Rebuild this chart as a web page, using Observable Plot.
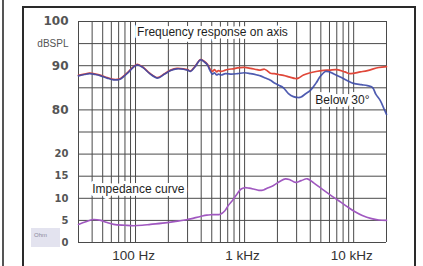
<!DOCTYPE html>
<html>
<head>
<meta charset="utf-8">
<script src="https://cdn.jsdelivr.net/npm/d3@7"></script>
<script src="https://cdn.jsdelivr.net/npm/@observablehq/plot@0.6"></script>
<style>
  html, body { margin: 0; padding: 0; background: #fff; }
  #wrap { position: relative; width: 423px; height: 266px; overflow: hidden; background: #fff; }
  #outerLine { position: absolute; left: 2px; top: 0; width: 2px; height: 266px; background: #555; }
  #innerFrame { position: absolute; left: 22px; top: 6px; width: 390px; height: 280px; border: 2px solid #2a2a2a; }
  #ohm { position: absolute; left: 31px; top: 228px; width: 29px; height: 19px; background: #e3e3ef;
         font: 6px "Liberation Sans", Arial, sans-serif; color: #8a8a9a; line-height: 15px; text-indent: 3px; }
  #chart { position: absolute; left: 0; top: 0; }
</style>
</head>
<body>
<div id="wrap">
  <div id="outerLine"></div>
  <div id="innerFrame"></div>
  <div id="ohm">Ohm</div>
  <div id="chart"></div>
</div>
<script>
// ---- data (frequency in Hz) ----
const onAxisFreq = [30,34,38,43,48,55,63,68,73,85,95,104,118,135,159,185,210,240,275,300,319,350,394,425,456,480,507,530,555,575,610,667,720,790,859,997,1133,1300,1396,1520,1620,1725,1876,2050,2271,2600,2925,3113,3465,4000,5066,6000,7000,8300,9300,11500,13400,17000,20000];
const onAxisDb   = [87.8,88.1,88.3,88.1,87.8,87.3,86.9,86.9,87.1,88.5,89.7,90.3,89.6,88.3,87.3,88.2,89.0,89.4,89.3,89.1,88.8,89.8,91.4,91.0,90.3,89.3,88.7,89.1,88.6,88.9,88.7,89.0,89.2,89.3,89.5,89.6,89.4,89.1,89.0,89.2,88.8,88.3,88.2,88.0,87.8,87.4,87.1,87.2,87.9,88.4,88.9,89.0,89.1,88.6,88.2,88.6,88.9,89.6,89.8];

const below30Freq = [30,34,38,43,48,55,63,68,73,85,95,104,118,135,159,185,210,240,275,300,319,350,394,425,456,480,507,530,555,575,610,667,760,859,997,1133,1300,1396,1550,1725,1876,2050,2271,2524,2800,3100,3300,3600,4010,4500,4950,5490,6000,6520,8030,9950,11750,13340,14850,16000,17550,19000,20000];
const below30Db   = [87.7,88.0,88.2,88.0,87.7,87.2,86.8,86.8,87.0,88.4,89.6,90.2,89.5,88.2,87.2,88.1,88.9,89.3,89.2,89.0,88.7,89.7,91.3,90.9,90.2,89.0,88.1,88.4,87.9,88.1,87.9,88.2,88.1,88.2,88.4,88.2,87.9,87.7,87.2,86.7,86.1,85.6,85.0,83.7,83.0,82.8,82.9,83.6,84.4,86.0,87.6,88.7,88.6,88.2,87.1,86.0,85.7,85.5,85.1,83.5,82.1,80.2,79.0];

const impFreq = [30,35,41,48,55,63,80,96,115,137,195,250,300,394,450,507,600,660,710,790,859,930,1000,1100,1206,1350,1490,1650,1840,2100,2370,2600,2925,3300,3760,4300,5070,6000,7240,8500,10200,12000,14600,17000,20000];
const impOhm  = [4.1,4.7,5.2,5.0,4.5,4.1,3.9,3.8,3.9,4.1,4.5,4.9,5.2,5.9,6.2,6.3,6.4,7.2,8.4,9.8,11.1,12.1,12.4,12.3,12.1,11.8,11.9,12.4,12.9,13.8,14.4,14.2,13.6,14.0,14.4,13.5,12.2,10.9,9.5,8.3,7.0,6.1,5.4,5.1,5.0];

// ---- axis / grid values ----
const gridFreqs = [30,40,50,60,70,80,90,100,200,300,400,500,600,700,800,900,1000,2000,3000,4000,5000,6000,7000,8000,9000,10000,20000];
const gridUnits = [0,5,10,15,20,25,30,35,40,45,50];  // shared vertical grid (Ohm below, dB-50 above)
const splTicks = [100, 90, 80];
const ohmTicks = [20, 15, 10, 5, 0];
const xLabels = [{f: 100, t: "100 Hz"}, {f: 1000, t: "1 kHz"}, {f: 10000, t: "10 kHz"}];
const splUnit = "dBSPL";
const notes = [
  {f: 507, y: 47.5, t: "Frequency response on axis"},
  {f: 106, y: 12, t: "Impedance curve"},
  {f: 7880, y: 32.1, t: "Below 30°"}
];

const dbOffset = 50; // dB value -> shared vertical unit
const onAxis = onAxisFreq.map((f, i) => ({f, v: onAxisDb[i] - dbOffset}));
const below30 = below30Freq.map((f, i) => ({f, v: below30Db[i] - dbOffset}));
const imp = impFreq.map((f, i) => ({f, v: impOhm[i]}));

const sans = '"Liberation Sans", Arial, sans-serif';

const chart = Plot.plot({
  width: 423,
  height: 266,
  marginLeft: 78,
  marginRight: 37,
  marginTop: 21,
  marginBottom: 24,
  x: {type: "log", domain: [30, 20000], axis: null},
  y: {domain: [0, 50], axis: null},
  style: {background: "transparent", fontFamily: sans},
  marks: [
    Plot.ruleX(gridFreqs, {stroke: "#4a4a4a", strokeWidth: 1}),
    Plot.ruleY(gridUnits, {stroke: "#4a4a4a", strokeWidth: 1}),
    Plot.line(onAxis, {x: "f", y: "v", stroke: "#e0483a", strokeWidth: 1.7, curve: "catmull-rom"}),
    Plot.line(below30, {x: "f", y: "v", stroke: "#3c4aa8", strokeWidth: 1.7, curve: "catmull-rom", strokeOpacity: 0.9}),
    Plot.line(imp, {x: "f", y: "v", stroke: "#a058c0", strokeWidth: 1.6, curve: "catmull-rom"}),
    Plot.text(notes, {x: "f", y: "y", text: "t", fontSize: 12, fill: "#1e1e1e",
      stroke: "white", strokeWidth: 6, paintOrder: "stroke", strokeLinejoin: "round", fontFamily: sans}),
    Plot.text(splTicks, {y: d => d - dbOffset, text: d => String(d), frameAnchor: "left", textAnchor: "end", dx: -10,
      fontSize: 12, fontWeight: "bold", fill: "#555", fontFamily: '"DejaVu Sans", sans-serif'}),
    Plot.text([splUnit], {y: 45, text: d => d, frameAnchor: "left", textAnchor: "end", dx: -10,
      fontSize: 10, fill: "#555", fontFamily: sans}),
    Plot.text(ohmTicks, {y: d => d, text: d => String(d), frameAnchor: "left", textAnchor: "end", dx: -10,
      fontSize: 10, fontWeight: "bold", fill: "#555", fontFamily: '"DejaVu Sans", sans-serif'}),
    Plot.text(xLabels, {x: "f", text: "t", frameAnchor: "bottom", lineAnchor: "top", dy: 8, dx: -2,
      fontSize: 13.5, fill: "#333", fontFamily: sans})
  ]
});
document.getElementById("chart").appendChild(chart);
</script>
</body>
</html>
